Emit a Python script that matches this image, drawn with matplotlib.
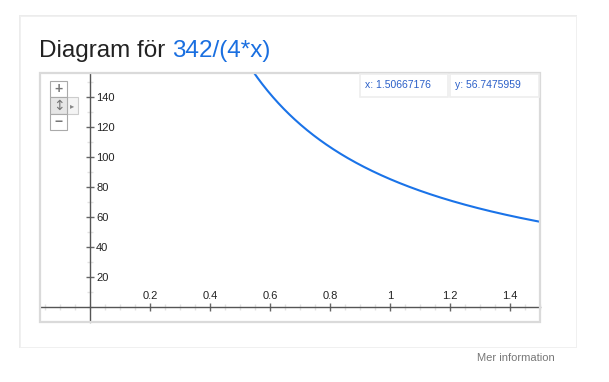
import numpy as np
import matplotlib
matplotlib.use("Agg")
import matplotlib.pyplot as plt
from matplotlib.patches import Rectangle
from matplotlib.ticker import MultipleLocator, FixedLocator, FixedFormatter

plt.rcParams['font.family'] = ['Liberation Sans', 'DejaVu Sans']

# function shown in the title: 342/(4*x)
numerator = 342
coef = 4
x_samples = np.linspace(0.3, 1.5, 400)
y_samples = numerator / (coef * x_samples)

x_ticks = [0.2, 0.4, 0.6, 0.8, 1.0, 1.2, 1.4]
x_labels = ["0.2", "0.4", "0.6", "0.8", "1", "1.2", "1.4"]
y_ticks = [20, 40, 60, 80, 100, 120, 140]
y_labels = ["20", "40", "60", "80", "100", "120", "140"]
cursor_x = "1.50667176"
cursor_y = "56.7475959"

W, H = 609, 382
fig = plt.figure(figsize=(W / 100, H / 100), dpi=100)
fig.patch.set_facecolor("white")

def fx(px):
    return px / W

def fy(py):
    return 1 - py / H

# card with light shadow
fig.patches.append(Rectangle((fx(19), fy(348)), fx(558), 333 / H,
                             transform=fig.transFigure, facecolor="#ececec",
                             edgecolor="none", zorder=-2))
fig.patches.append(Rectangle((fx(20), fy(346.5)), fx(555.5), 331 / H,
                             transform=fig.transFigure, facecolor="white",
                             edgecolor="#f0f0f0", lw=0.6, zorder=-1))

blue = "#1a6fe0"
t1 = fig.text(fx(39), fy(57), "Diagram för ", fontsize=17.5, color="#222222",
              va="baseline", ha="left")
fig.canvas.draw()
bb = t1.get_window_extent()
fig.text(bb.x1 / W, fy(57), "342/(4*x)", fontsize=17.5, color=blue,
         va="baseline", ha="left")

fig.text(fx(555), fy(358), "Mer information", fontsize=8, color="#777777",
         ha="right", va="center")

ax = fig.add_axes([fx(40), fy(322), fx(500), (322 - 73) / H])
ax.set_facecolor("white")
ax.plot(x_samples, y_samples, color="#1a73e8", lw=1.5, zorder=3)
ax.set_xlim(-1 / 6, 1.5)
ax.set_ylim(-9.9, 156.3)

for s in ["left", "bottom"]:
    ax.spines[s].set_visible(False)
ax.spines["right"].set_position(("data", 0))
ax.spines["top"].set_position(("data", 0))
ax.spines["right"].set_color("#555555")
ax.spines["top"].set_color("#555555")
ax.spines["right"].set_linewidth(1)
ax.spines["top"].set_linewidth(1)

ax.xaxis.set_ticks_position("top")
ax.yaxis.set_ticks_position("right")
ax.xaxis.set_major_locator(FixedLocator(x_ticks))
ax.xaxis.set_major_formatter(FixedFormatter(x_labels))
ax.yaxis.set_major_locator(FixedLocator(y_ticks))
ax.yaxis.set_major_formatter(FixedFormatter(y_labels))
ax.xaxis.set_minor_locator(MultipleLocator(0.05))
ax.yaxis.set_minor_locator(MultipleLocator(10))

ax.tick_params(which="major", direction="inout", length=6, width=1,
               color="#666666", labelsize=8, labelcolor="#222222", pad=1.5)
ax.tick_params(which="minor", direction="inout", length=4, width=1,
               color="#e2e2e2")

# plot frame
ax.add_patch(Rectangle((0, 0), 1, 1, transform=ax.transAxes, fill=False,
                       edgecolor="#dadada", lw=1.6, clip_on=False, zorder=5))

# cursor readout boxes
for (l, r, txt) in [(360, 448, "x: " + cursor_x), (450, 539, "y: " + cursor_y)]:
    fig.patches.append(Rectangle((fx(l), fy(97)), fx(r - l), 23 / H,
                                 transform=fig.transFigure, facecolor="white",
                                 edgecolor="#eeeeee", lw=1.2, zorder=10))
    fig.text(fx(l + 5), fy(85.5), txt, fontsize=7.5, color="#2a5fc8",
             ha="left", va="center", zorder=11)

# zoom widget
fig.patches.append(Rectangle((fx(51), fy(131)), fx(17), 49 / H,
                             transform=fig.transFigure, facecolor="#dcdcdc",
                             edgecolor="none", zorder=10))
boxes = [(81, 97, "white"), (97, 114, "#e6e6e6"), (114, 130, "white")]
for top, bot, fc in boxes:
    fig.patches.append(Rectangle((fx(50), fy(bot)), fx(17), (bot - top) / H,
                                 transform=fig.transFigure, facecolor=fc,
                                 edgecolor="#aaaaaa", lw=0.8, zorder=11))
fig.patches.append(Rectangle((fx(67), fy(114)), fx(11), 17 / H,
                             transform=fig.transFigure, facecolor="#f4f4f4",
                             edgecolor="#cccccc", lw=0.8, zorder=10))
fig.text(fx(58.5), fy(88.5), "+", fontsize=10, color="#777777", ha="center",
         va="center", zorder=12, fontweight="bold")
fig.text(fx(58.5), fy(122), "−", fontsize=10, color="#777777", ha="center",
         va="center", zorder=12, fontweight="bold")
fig.text(fx(58.5), fy(105.5), "↕", fontsize=10, color="#777777", ha="center",
         va="center", zorder=12, family="DejaVu Sans")
fig.text(fx(72.5), fy(105.5), "▸", fontsize=6, color="#888888", ha="center",
         va="center", zorder=12, family="DejaVu Sans")

fig.savefig("out.png", dpi=100)
